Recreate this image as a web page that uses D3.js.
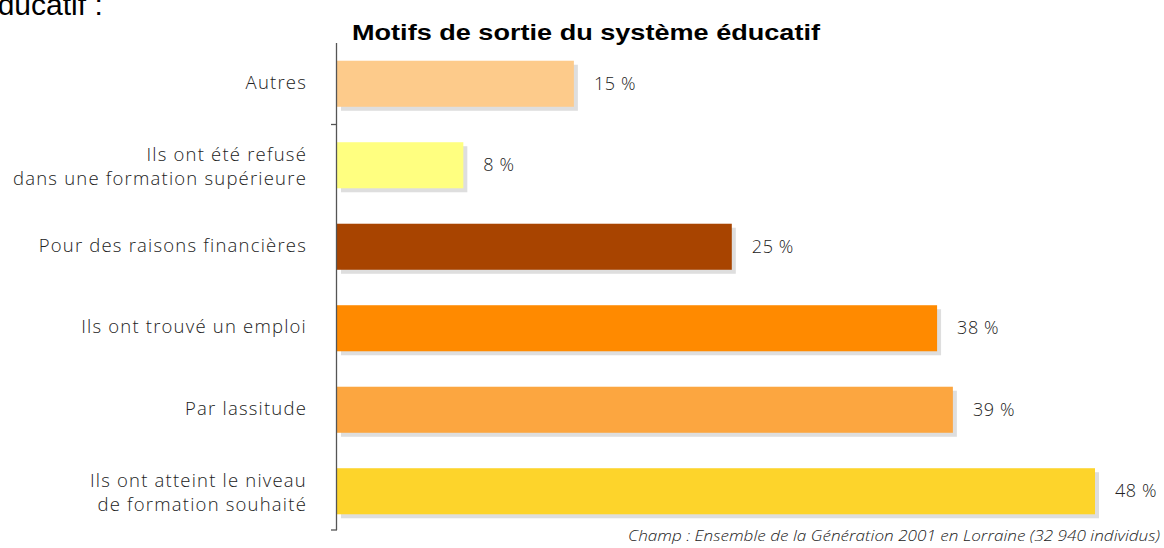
<!DOCTYPE html>
<html>
<head>
<meta charset="utf-8">
<script src="https://cdn.jsdelivr.net/npm/d3@7"></script>
<style>
  html, body { margin: 0; padding: 0; background: #fff; }
  svg { display: block; }
</style>
</head>
<body>
<svg id="chart" width="1164" height="548"></svg>
<script>
// Reasons for leaving the education system (share of respondents, %)
const categories = [
  ["Autres"],
  ["Ils ont été refusé", "dans une formation supérieure"],
  ["Pour des raisons financières"],
  ["Ils ont trouvé un emploi"],
  ["Par lassitude"],
  ["Ils ont atteint le niveau", "de formation souhaité"]
];
const values = [15, 8, 25, 38, 39, 48];
const colors = ["#fdcb8b", "#ffff80", "#a84400", "#ff8a00", "#fca640", "#fdd42b"];
const valueLabels = ["15 %", "8 %", "25 %", "38 %", "39 %", "48 %"];

const title = "Motifs de sortie du système éducatif";
const source = "Champ : Ensemble de la Génération 2001 en Lorraine (32 940 individus)";

const svg = d3.select("#chart");
const sans = "'Liberation Sans', Arial, sans-serif";
const labelFont = "'Open Sans', 'DejaVu Sans', sans-serif";

// Tail of the surrounding text line above the chart
svg.append("text")
  .attr("x", -19).attr("y", 15)
  .attr("font-family", sans).attr("font-size", 30)
  .attr("fill", "#000")
  .text("éducatif :");

// Title
svg.append("text")
  .attr("x", 352).attr("y", 40)
  .attr("font-family", sans).attr("font-size", 22).attr("font-weight", "bold")
  .attr("textLength", 468).attr("lengthAdjust", "spacingAndGlyphs")
  .attr("fill", "#000")
  .text(title);

const x0 = 337;
const x = d3.scaleLinear().domain([0, 48]).range([x0, 1095]);
const idx = d3.range(categories.length);
const y = d3.scaleBand().domain(idx).range([43, 532]).paddingInner(0.435).paddingOuter(0.2175);

// Bar shadows
svg.append("g").selectAll("rect")
  .data(idx).join("rect")
  .attr("x", x(0) + 4)
  .attr("y", i => y(i) + 4)
  .attr("width", i => x(values[i]) - x(0))
  .attr("height", y.bandwidth())
  .attr("fill", "#dedede");

// Bars
svg.append("g").selectAll("rect")
  .data(idx).join("rect")
  .attr("x", x(0))
  .attr("y", i => y(i))
  .attr("width", i => x(values[i]) - x(0))
  .attr("height", y.bandwidth())
  .attr("fill", i => colors[i]);

// Value labels
svg.append("g").selectAll("text")
  .data(idx).join("text")
  .attr("x", i => x(values[i]) + 20)
  .attr("y", i => y(i) + y.bandwidth() / 2 + 6)
  .attr("font-family", labelFont).attr("font-size", 18).attr("font-weight", 300)
  .attr("letter-spacing", 0.6)
  .attr("fill", "#222")
  .text(i => valueLabels[i]);

// Category labels (one or two lines, each line its own text)
const lineH = 24;
const catG = svg.append("g");
idx.forEach(i => {
  const lines = categories[i];
  const cy = y(i) + y.bandwidth() / 2 + (lines.length > 1 ? 8 : 5);
  lines.forEach((ln, k) => {
    catG.append("text")
      .attr("text-anchor", "end")
      .attr("font-family", labelFont).attr("font-size", 18.5).attr("font-weight", 300)
      .attr("letter-spacing", 1.2)
      .attr("fill", "#222")
      .attr("x", 307)
      .attr("y", cy + (k - (lines.length - 1) / 2) * lineH)
      .text(ln);
  });
});

// Vertical axis with its two ticks
const axisG = svg.append("g").attr("stroke", "#555").attr("stroke-width", 1.3);
axisG.append("line").attr("x1", x0 - 0.5).attr("x2", x0 - 0.5).attr("y1", 43).attr("y2", 530);
const tickY = (y(0) + y.bandwidth() + y(1)) / 2;
axisG.append("line").attr("x1", x0 - 6).attr("x2", x0).attr("y1", tickY).attr("y2", tickY);
axisG.append("line").attr("x1", x0 - 6).attr("x2", x0).attr("y1", 530).attr("y2", 530);

// Source note
svg.append("text")
  .attr("x", 628).attr("y", 541)
  .attr("font-family", labelFont).attr("font-size", 14).attr("font-style", "italic").attr("font-weight", 300)
  .attr("textLength", 532).attr("lengthAdjust", "spacingAndGlyphs")
  .attr("fill", "#222")
  .text(source);
</script>
</body>
</html>
